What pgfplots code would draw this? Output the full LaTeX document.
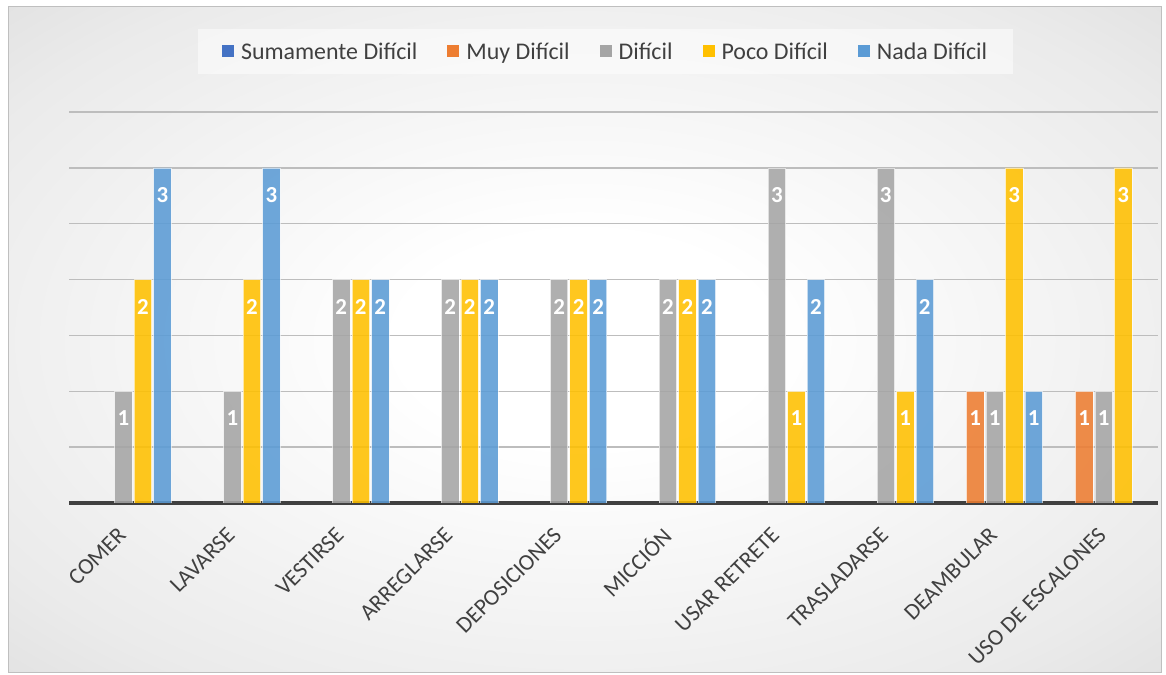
\documentclass[border=0pt]{standalone}
\usepackage{fontspec}
\setmainfont{Carlito}
\usepackage{pgfplots}
\pgfplotsset{compat=1.18}
\definecolor{sumdif}{HTML}{4472C4}
\definecolor{muydif}{HTML}{ED7D31}
\definecolor{dif}{HTML}{A5A5A5}
\definecolor{pocodif}{HTML}{FFC000}
\definecolor{nadadif}{HTML}{5B9BD5}
\definecolor{labeltext}{HTML}{404040}
\definecolor{gridgray}{HTML}{BDBDBD}
\pgfdeclareradialshading{chartbg}{\pgfpoint{0bp}{0bp}}{color(0bp)=(white); color(8bp)=(white); color(30bp)=(black!8); color(50bp)=(black!19); color(71bp)=(black!29)}
\newcommand\chartfont{\fontsize{23}{27}\selectfont}

\begin{document}
\begin{tikzpicture}
\useasboundingbox (0bp,0bp) rectangle (1166bp,675bp);
\fill[white] (0bp,0bp) rectangle (1166bp,675bp);
\shade[shading=chartbg] (8bp,2bp) rectangle (1161bp,668bp);
\draw[black!25, line width=1bp] (8bp,2bp) rectangle (1161bp,668bp);
\begin{axis}[
  at={(69bp,172bp)}, anchor=south west,
  scale only axis, width=1089bp, height=391bp,
  xmin=-0.5, xmax=9.5, ymin=0, ymax=3.5,
  ybar, bar width=17.5bp,
  axis line style={draw=none},
  major tick length=0pt,
  xtick={0,...,9},
  xticklabels={COMER,LAVARSE,VESTIRSE,ARREGLARSE,DEPOSICIONES,MICCIÓN,USAR RETRETE,TRASLADARSE,DEAMBULAR,USO DE ESCALONES},
  xticklabel style={xshift=1bp, yshift=-26bp, rotate=45, anchor=east, font=\chartfont, text=labeltext},
  ytick={0.5,1,...,3.5}, yticklabels={},
  ymajorgrids, major grid style={gridgray, line width=1.3bp},
  extra y ticks={0}, extra y tick labels={},
  extra y tick style={ymajorgrids, major grid style={labeltext, line width=3bp}},
  /pgf/number format/assume math mode=true,
  nodes near coords,
  nodes near coords align={center},
  every node near coord/.append style={anchor=center, yshift=-27bp, text=white, text opacity=1, font=\bfseries\chartfont},
  every axis plot/.append style={draw=white, draw opacity=0.6, line width=0.7bp, fill opacity=0.88},
  legend style={at={(0.4927,1.1547)}, anchor=center, legend columns=5, draw=none,
    fill=white, fill opacity=0.5, text opacity=1, text=labeltext,
    font=\fontsize{24}{28}\selectfont, inner xsep=24bp, inner ysep=11bp,
    /tikz/every odd column/.append style={column sep=5bp},
    /tikz/every even column/.append style={column sep=28bp}},
  legend cell align=left,
  mylegend/.style={legend image code/.code={\fill[##1, fill opacity=1, draw=none] (0bp,-5bp) rectangle (12bp,7bp);}},
]
\addlegendimage{fill=sumdif, mylegend}
\addplot[fill=muydif, bar shift=-19.5bp, mylegend] coordinates {(8,1) (9,1)};
\addplot[fill=dif, bar shift=0bp, mylegend] coordinates {(0,1) (1,1) (2,2) (3,2) (4,2) (5,2) (6,3) (7,3) (8,1) (9,1)};
\addplot[fill=pocodif, bar shift=19.5bp, mylegend] coordinates {(0,2) (1,2) (2,2) (3,2) (4,2) (5,2) (6,1) (7,1) (8,3) (9,3)};
\addplot[fill=nadadif, bar shift=39bp, mylegend] coordinates {(0,3) (1,3) (2,2) (3,2) (4,2) (5,2) (6,2) (7,2) (8,1)};
\legend{Sumamente Difícil, Muy Difícil, Difícil, Poco Difícil, Nada Difícil}
\end{axis}
\end{tikzpicture}
\end{document}
